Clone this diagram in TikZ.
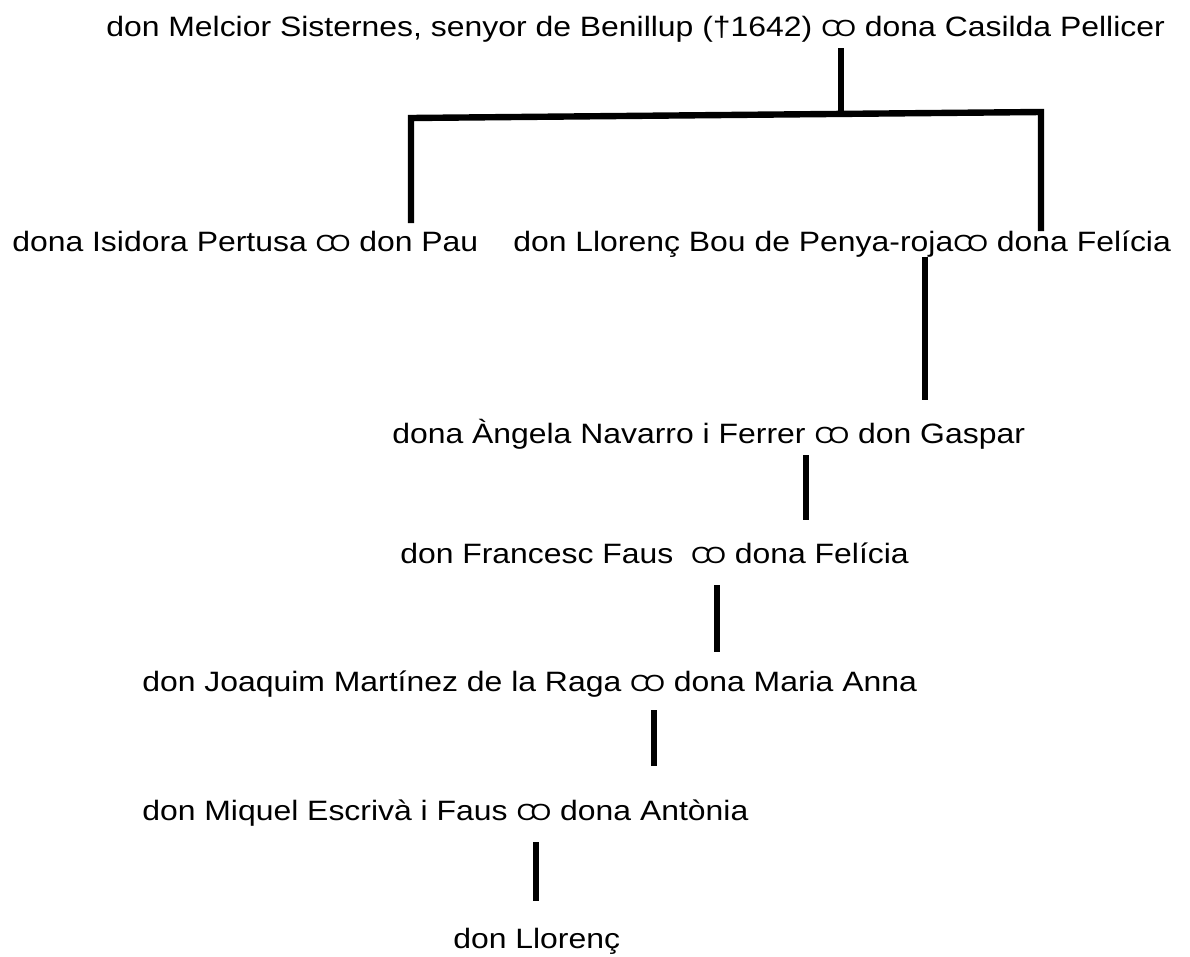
\documentclass[tikz,border=0pt]{standalone}
\usepackage{fontspec}
\setmainfont{Liberation Sans}[FakeStretch=1.14]
\newcommand\mar{{\fontsize{17.5}{17.5}\selectfont C\kern-0.22em O}}
\begin{document}
\begin{tikzpicture}[x=0.75pt,y=-0.75pt,
  person/.style={anchor=base west,inner sep=0pt,font=\fontsize{21}{24}\selectfont},
  link/.style={line width=3.9pt,line cap=butt},
  bar/.style={line width=4.8pt,line join=miter}]
\useasboundingbox (0,0) rectangle (1190,957);
\node[person] (r1) at (106,36) {don Melcior Sisternes, senyor de Benillup (†1642) \mar{} dona Casilda Pellicer};
\node[person] (r2a) at (12,251) {dona Isidora Pertusa \mar{} don Pau};
\node[person] (r2b) at (513,251) {don Llorenç Bou de Penya-roja\mar{} dona Felícia};
\node[person] (r3) at (392,443) {dona Àngela Navarro i Ferrer \mar{} don Gaspar};
\node[person] (r4) at (400,563) {don Francesc Faus\ \ \mar{} dona Felícia};
\node[person] (r5) at (142,691) {don Joaquim Martínez de la Raga \mar{} dona Maria Anna};
\node[person] (r6) at (142,820) {don Miquel Escrivà i Faus \mar{} dona Antònia};
\node[person] (r7) at (453,948) {don Llorenç};
% junction coordinates
\coordinate (t0) at (841,48);
\coordinate (j0) at (841,113);
\coordinate (jl) at (411,118);
\coordinate (jr) at (1041,112);
\coordinate (el) at (411,223);
\coordinate (er) at (1041,231);
\coordinate (a2) at (925,257); \coordinate (b2) at (925,400);
\coordinate (a3) at (806,455); \coordinate (b3) at (806,520);
\coordinate (a4) at (717,585); \coordinate (b4) at (717,652);
\coordinate (a5) at (654,710); \coordinate (b5) at (654,766);
\coordinate (a6) at (536,842); \coordinate (b6) at (536,901);
\draw[link] (t0) -- (j0);
\draw[bar] (el) -- (jl) -- (jr) -- (er);
\draw[link] (a2) -- (b2);
\draw[link] (a3) -- (b3);
\draw[link] (a4) -- (b4);
\draw[link] (a5) -- (b5);
\draw[link] (a6) -- (b6);
\end{tikzpicture}
\end{document}
